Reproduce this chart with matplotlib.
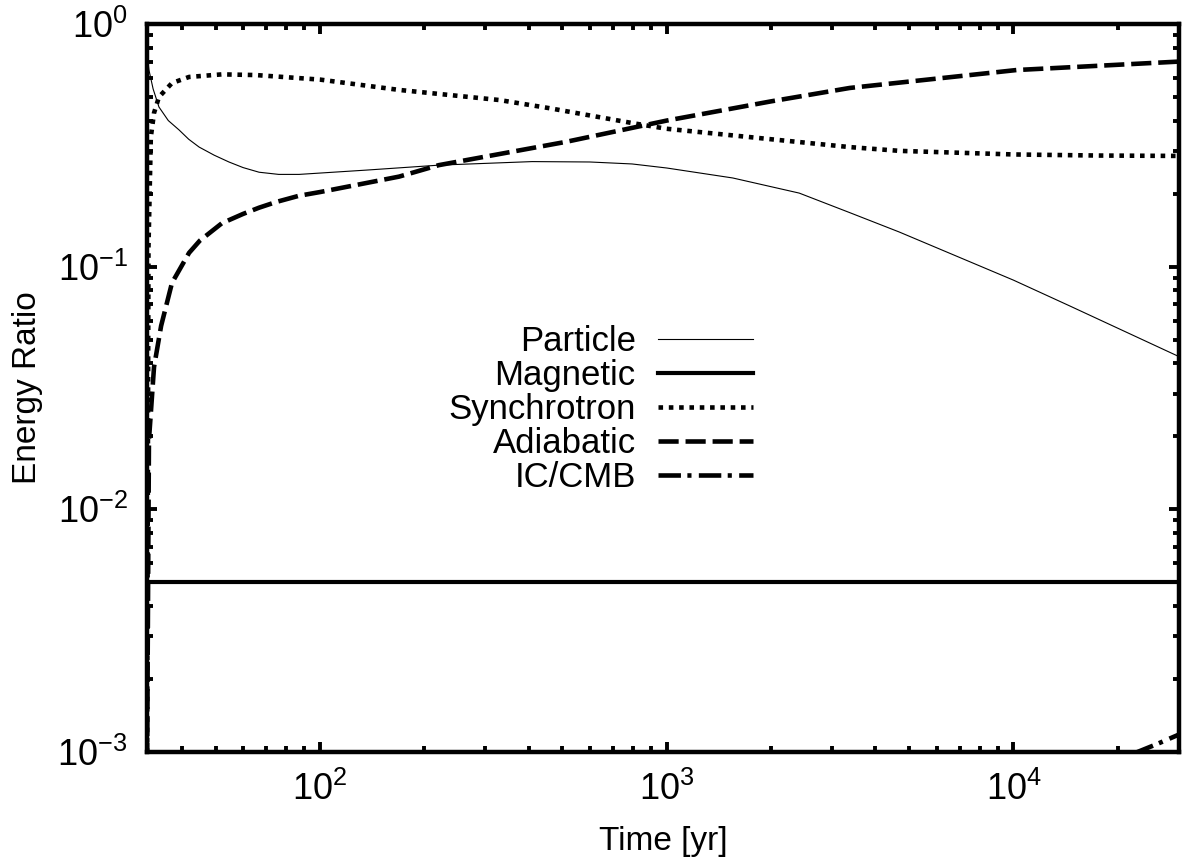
import numpy as np
import matplotlib
matplotlib.use('Agg')
import matplotlib.pyplot as plt
from matplotlib.ticker import LogLocator, NullFormatter

plt.rcParams['font.family'] = ['Liberation Sans', 'DejaVu Sans']
plt.rcParams['mathtext.fontset'] = 'custom'
plt.rcParams['mathtext.rm'] = 'Liberation Sans'
plt.rcParams['mathtext.default'] = 'regular'

# time [yr] and energy ratios
t_particle = [31.7, 32.1, 33.0, 34.3, 36.5, 39.2, 41.8, 44.8, 49.5, 54.6, 60, 66.7, 76, 87, 136, 220, 409, 600, 794, 1000, 1550, 2410, 3370, 4680, 10000, 14500, 29600]
e_particle = [0.75, 0.646, 0.54, 0.455, 0.40, 0.366, 0.335, 0.311, 0.288, 0.27, 0.256, 0.245, 0.24, 0.24, 0.25, 0.262, 0.271, 0.27, 0.265, 0.255, 0.232, 0.201, 0.167, 0.139, 0.088, 0.069, 0.043]

t_magnetic = [31.7, 30000]
e_magnetic = [0.005, 0.005]

t_synch = [31.7, 32.0, 32.5, 33.2, 34.3, 37.4, 41.9, 52.1, 65.3, 100, 169, 329, 458, 800, 1000, 2000, 3370, 4700, 10000, 17700, 30000]
e_synch = [0.0009, 0.12, 0.342, 0.43, 0.50, 0.571, 0.605, 0.62, 0.616, 0.59, 0.535, 0.486, 0.45, 0.39, 0.37, 0.335, 0.311, 0.30, 0.29, 0.287, 0.286]

t_adiab = [31.7, 32.1, 33.2, 34.8, 37.4, 41.9, 45, 52.1, 60, 66.7, 75, 87, 100, 169, 220, 513, 1000, 2000, 3370, 10200, 30000]
e_adiab = [0.0009, 0.0193, 0.0386, 0.057, 0.0857, 0.114, 0.128, 0.151, 0.165, 0.175, 0.185, 0.196, 0.203, 0.235, 0.262, 0.327, 0.40, 0.48, 0.545, 0.646, 0.70]

t_ic = [22000, 26000, 30000]
e_ic = [0.00098, 0.00108, 0.00118]

fig = plt.figure(figsize=(11.86, 8.63), dpi=100)
ax = fig.add_axes([0.124, 0.1286, 0.870, 0.8436])

ax.plot(t_particle, e_particle, color='black', lw=0.8, label='Particle')
ax.plot(t_magnetic, e_magnetic, color='black', lw=3.0, label='Magnetic')
ax.plot(t_synch, e_synch, color='black', lw=3.3, dashes=(1, 1.25), dash_capstyle='butt', label='Synchrotron')
ax.plot(t_adiab, e_adiab, color='black', lw=3.3, dashes=(4.4, 1.5), dash_capstyle='butt', label='Adiabatic')
ax.plot(t_ic, e_ic, color='black', lw=3.3, dashes=(4.9, 1.4, 0.9, 1.6), dash_capstyle='butt', label='IC/CMB')

ax.set_xscale('log')
ax.set_yscale('log')
ax.set_xlim(31.7, 30000)
ax.set_ylim(1e-3, 1)

ax.xaxis.set_major_locator(LogLocator(base=10, numticks=10))
ax.yaxis.set_major_locator(LogLocator(base=10, numticks=10))
ax.xaxis.set_minor_locator(LogLocator(base=10, subs=np.arange(2, 10), numticks=20))
ax.yaxis.set_minor_locator(LogLocator(base=10, subs=np.arange(2, 10), numticks=20))
ax.xaxis.set_minor_formatter(NullFormatter())
ax.yaxis.set_minor_formatter(NullFormatter())

ax.tick_params(which='both', direction='in', top=True, right=True, labelsize=26)
ax.tick_params(which='major', length=7, width=2.8)
ax.tick_params(which='minor', length=4, width=2.8)
ax.tick_params(axis='x', which='major', pad=14)
ax.tick_params(axis='y', which='major', pad=14)
for s in ax.spines.values():
    s.set_linewidth(3.2)

ax.set_xlabel('Time [yr]', fontsize=24, labelpad=13)
ax.set_ylabel('Energy Ratio', fontsize=24, labelpad=10)

leg = ax.legend(loc='center', bbox_to_anchor=(0.4395, 0.4705), frameon=False,
                markerfirst=False, fontsize=25, handlelength=2.74,
                handletextpad=0.63, labelspacing=0.025, borderpad=0)

fig.savefig('out.png', dpi=100)
